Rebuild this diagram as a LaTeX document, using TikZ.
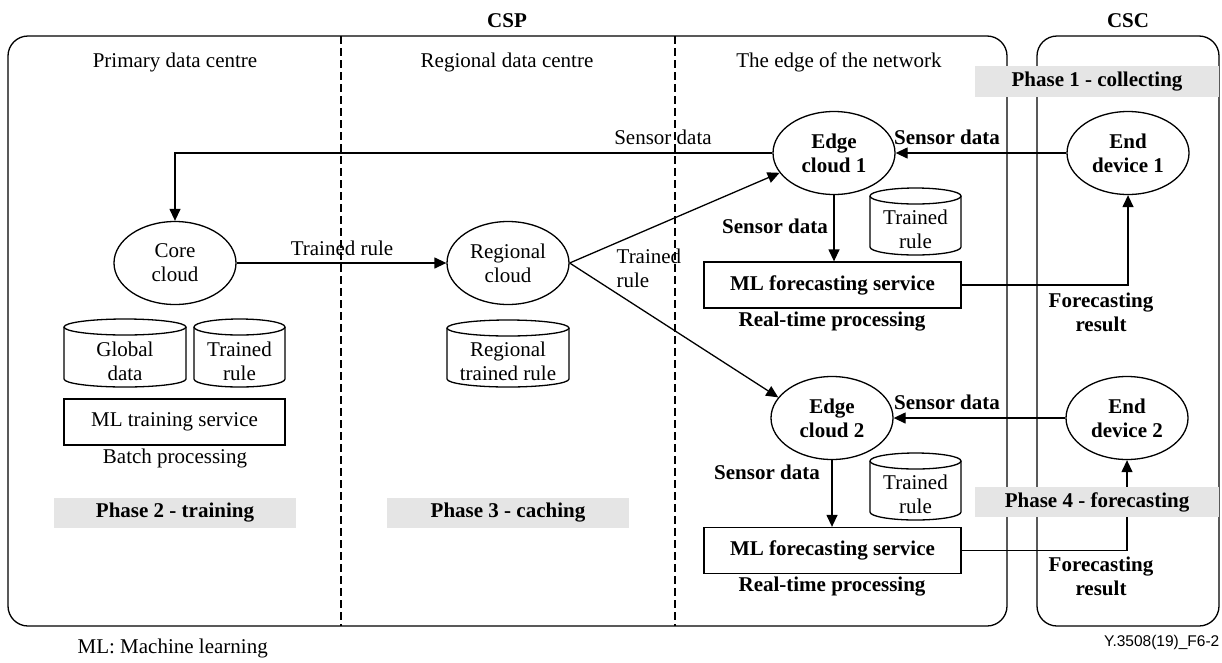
\documentclass[tikz,border=0pt]{standalone}
\usepackage{fontspec}
\setmainfont{Liberation Serif}
\newfontfamily\arialfont{Liberation Sans}
\usetikzlibrary{shapes.geometric,arrows.meta}
\definecolor{phasegray}{RGB}{229,229,229}
\newcommand\drawcyl[6]{%
  \draw (#2-#5,#3+8) -- (#2-#5,#4-8) arc[start angle=180,end angle=360,x radius=#5pt,y radius=8pt] -- (#2+#5,#3+8);
  \draw (#2,#3+8) ellipse[x radius=#5pt, y radius=8pt];
  \node[lbl] (#1) at (#2,{(#3+#4)/2+8}) {#6};
}
\begin{document}
\begin{tikzpicture}[x=1pt,y=-1pt, line width=1.3pt,
  font=\fontsize{21}{24}\selectfont,
  lbl/.style={align=center, inner sep=0pt},
  blbl/.style={lbl, font=\fontsize{21}{24}\selectfont\bfseries},
  cloud/.style={ellipse, draw, minimum width=122pt, minimum height=83pt, inner sep=0pt, align=center},
  svcbox/.style={draw, minimum width=257pt, minimum height=46pt, inner sep=0pt},
  phase/.style={fill=phasegray, minimum width=242pt, minimum height=30pt, inner sep=0pt, font=\fontsize{21}{24}\selectfont\bfseries},
  arr/.style={-{Triangle[length=12pt,width=11pt]}},
  divider/.style={dash pattern=on 8pt off 4pt, line width=1.2pt},
  region/.style={draw, rounded corners=20pt}]
\useasboundingbox (0,0) rectangle (1222,662);

% regions
\draw[region] (8,36) rectangle (1007,626);
\draw[region] (1037,36) rectangle (1219,626);
\draw[divider] (341,36) -- (341,626);
\draw[divider] (675,36) -- (675,626);

% titles
\node[blbl] (csp) at (507,21) {CSP};
\node[blbl] (csc) at (1128,21) {CSC};
\node[lbl] (h1) at (175,62) {Primary data centre};
\node[lbl] (h2) at (507,62) {Regional data centre};
\node[lbl] (h3) at (839,62) {The edge of the network};

% clouds and devices
\node[cloud] (core) at (175,263) {Core\\cloud};
\node[cloud] (reg) at (508,263) {Regional\\cloud};
\node[cloud, font=\fontsize{21}{24}\selectfont\bfseries] (ec1) at (834,153) {Edge\\cloud 1};
\node[cloud, font=\fontsize{21}{24}\selectfont\bfseries] (ed1) at (1128,153) {End\\device 1};
\node[cloud, font=\fontsize{21}{24}\selectfont\bfseries] (ec2) at (832,418) {Edge\\cloud 2};
\node[cloud, font=\fontsize{21}{24}\selectfont\bfseries] (ed2) at (1127,418) {End\\device 2};

% service boxes
\node[svcbox, minimum width=221pt] (mlt) at (174.5,422) {ML training service};
\node[svcbox, font=\fontsize{21}{24}\selectfont\bfseries] (ml1) at (832.5,285) {ML forecasting service};
\node[svcbox, font=\fontsize{21}{24}\selectfont\bfseries] (ml2) at (832.5,550.5) {ML forecasting service};

% cylinders
\drawcyl{gd}{125}{319}{387}{61}{Global\\data}
\drawcyl{trc}{239.5}{319}{387}{45.5}{Trained\\rule}
\drawcyl{rtr}{508}{320}{387}{61}{Regional\\trained rule}
\drawcyl{tre1}{915.5}{188}{255}{45.5}{Trained\\rule}
\drawcyl{tre2}{915.5}{453}{520}{45.5}{Trained\\rule}

% connectors
\draw[arr] (ed1.west) -- (ec1.east);
\draw[arr] (ec1.west) -| (core.north);
\draw[arr] (core.east) -- (reg.west);
\draw[arr] (reg.east) -- (ec1.200);
\draw[arr] (reg.east) -- (ec2.159);
\draw[arr] (ec1.south) -- (ec1.south |- ml1.north);
\draw[arr] (ml1.east) -| (ed1.south);
\draw[arr] (ed2.west) -- (ec2.east);
\draw[arr] (ec2.south) -- (ec2.south |- ml2.north);
\draw[arr] (ml2.east) -| (ed2.south);

% labels
\node[lbl] (sdl) at (663,137) {Sensor data};
\node[blbl] (sd1) at (947,137) {Sensor data};
\node[blbl] (sd2) at (947,402) {Sensor data};
\node[lbl] (tr1) at (342,248) {Trained rule};
\node[lbl, anchor=west, align=left] (tr2) at (616,268.5) {Trained\\rule};
\node[blbl] (sd3) at (775,226) {Sensor data};
\node[blbl] (sd4) at (767,472) {Sensor data};
\node[blbl] (rt1) at (832,322) {Real-time processing};
\node[blbl] (rt2) at (832,587) {Real-time processing};
\node[blbl] (fr1) at (1101,312.5) {Forecasting\\result};
\node[blbl] (fr2) at (1101,576) {Forecasting\\result};
\node[lbl] (bp) at (175,458) {Batch processing};

% phases (on top of lines)
\node[phase, minimum width=244pt, minimum height=31pt] (p1) at (1097,81.5) {Phase 1 - collecting};
\node[phase, minimum width=244pt] (p4) at (1097,502) {Phase 4 - forecasting};
\node[phase] (p2) at (175,513) {Phase 2 - training};
\node[phase] (p3) at (508,513) {Phase 3 - caching};

% footnotes
\node[lbl, anchor=west] (note) at (77,648) {ML: Machine learning};
\node[lbl, anchor=east, font=\arialfont\fontsize{15.5}{18}\selectfont] (fig) at (1220,642) {Y.3508(19)\_F6-2};
\end{tikzpicture}
\end{document}
